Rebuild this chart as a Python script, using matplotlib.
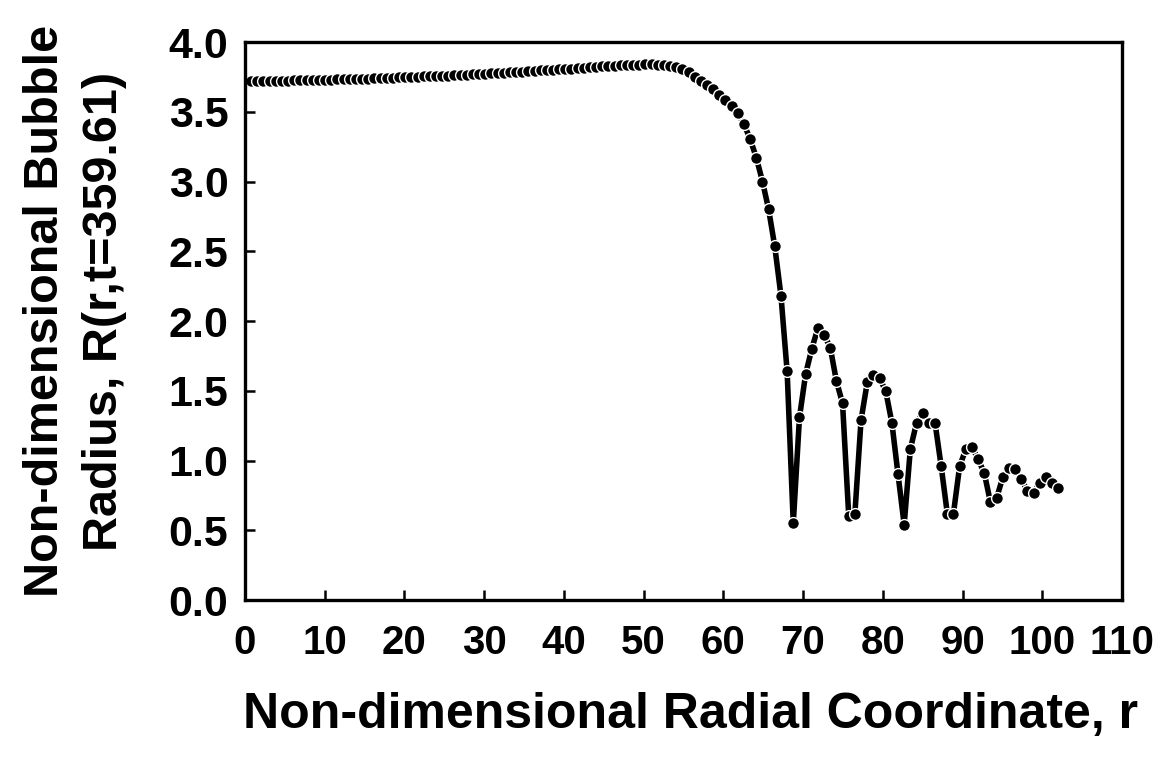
import matplotlib
matplotlib.use("Agg")
import matplotlib.pyplot as plt

# Radial coordinate of each computed point (uniform grid)
r_values = [
    0.00, 0.77, 1.55, 2.32, 3.09, 3.86, 4.64, 5.41, 6.18, 6.95,
    7.73, 8.50, 9.27, 10.05, 10.82, 11.59, 12.36, 13.14, 13.91, 14.68,
    15.45, 16.23, 17.00, 17.77, 18.55, 19.32, 20.09, 20.86, 21.64, 22.41,
    23.18, 23.95, 24.73, 25.50, 26.27, 27.05, 27.82, 28.59, 29.36, 30.14,
    30.91, 31.68, 32.45, 33.23, 34.00, 34.77, 35.55, 36.32, 37.09, 37.86,
    38.64, 39.41, 40.18, 40.95, 41.73, 42.50, 43.27, 44.05, 44.82, 45.59,
    46.36, 47.14, 47.91, 48.68, 49.45, 50.23, 51.00, 51.77, 52.55, 53.32,
    54.09, 54.86, 55.64, 56.41, 57.18, 57.95, 58.73, 59.50, 60.27, 61.05,
    61.82, 62.59, 63.36, 64.14, 64.91, 65.68, 66.45, 67.23, 68.00, 68.77,
    69.55, 70.32, 71.09, 71.86, 72.64, 73.41, 74.18, 74.95, 75.73, 76.50,
    77.27, 78.05, 78.82, 79.59, 80.36, 81.14, 81.91, 82.68, 83.45, 84.23,
    85.00, 85.77, 86.55, 87.32, 88.09, 88.86, 89.64, 90.41, 91.18, 91.95,
    92.73, 93.50, 94.27, 95.05, 95.82, 96.59, 97.36, 98.14, 98.91, 99.68,
    100.45, 101.23, 102.00,
]

# Non-dimensional bubble radius at each point
R_values = [
    3.720, 3.720, 3.720, 3.721, 3.722, 3.722, 3.723, 3.724, 3.725, 3.726,
    3.727, 3.728, 3.729, 3.730, 3.731, 3.732, 3.733, 3.734, 3.736, 3.737,
    3.738, 3.740, 3.741, 3.743, 3.744, 3.746, 3.747, 3.749, 3.751, 3.753,
    3.754, 3.756, 3.758, 3.760, 3.762, 3.764, 3.766, 3.768, 3.771, 3.773,
    3.775, 3.778, 3.780, 3.783, 3.785, 3.788, 3.790, 3.793, 3.796, 3.799,
    3.801, 3.804, 3.807, 3.810, 3.813, 3.816, 3.819, 3.822, 3.825, 3.828,
    3.831, 3.833, 3.835, 3.837, 3.838, 3.839, 3.839, 3.838, 3.835, 3.830,
    3.822, 3.805, 3.782, 3.752, 3.722, 3.692, 3.660, 3.622, 3.582, 3.545,
    3.490, 3.410, 3.305, 3.170, 3.000, 2.800, 2.535, 2.180, 1.640, 0.550,
    1.310, 1.620, 1.800, 1.950, 1.900, 1.810, 1.570, 1.410, 0.600, 0.620,
    1.290, 1.560, 1.610, 1.590, 1.500, 1.270, 0.900, 0.540, 1.080, 1.270,
    1.340, 1.270, 1.270, 0.960, 0.620, 0.620, 0.960, 1.080, 1.100, 1.010,
    0.910, 0.700, 0.730, 0.880, 0.950, 0.940, 0.870, 0.780, 0.770, 0.840,
    0.880, 0.840, 0.800,
]

x_ticks = [0, 10, 20, 30, 40, 50, 60, 70, 80, 90, 100, 110]
y_ticks = [0.0, 0.5, 1.0, 1.5, 2.0, 2.5, 3.0, 3.5, 4.0]

plt.rcParams['font.family'] = ['Liberation Sans', 'DejaVu Sans']
plt.rcParams['font.weight'] = 'bold'

fig = plt.figure(figsize=(11.61, 7.67), dpi=100)
ax = fig.add_axes([0.211, 0.2177, 0.7554, 0.7275])

ax.plot(r_values, R_values, color='black', linewidth=4.0,
        marker='o', markersize=8.5, markerfacecolor='black',
        markeredgecolor='white', markeredgewidth=1.0)

ax.set_xlim(0, 110)
ax.set_ylim(0, 4.0)
ax.set_xticks(x_ticks)
ax.set_yticks(y_ticks)
ax.set_xticklabels([str(v) for v in x_ticks])
ax.set_yticklabels([f"{v:.1f}" for v in y_ticks])

for s in ax.spines.values():
    s.set_linewidth(2.4)

ax.tick_params(axis='both', direction='in', width=1.8, length=7,
               labelsize=29)
ax.tick_params(axis='y', pad=12, labelsize=31)
ax.tick_params(axis='x', pad=17)
for lab in ax.get_xticklabels() + ax.get_yticklabels():
    lab.set_fontweight('bold')

ax.set_xlabel("Non-dimensional Radial Coordinate, r", fontsize=36,
              fontweight='bold')
ax.xaxis.set_label_coords(0.5086, -0.165)
ax.set_ylabel("Non-dimensional Bubble\nRadius, R(r,t=359.61)", fontsize=35,
              fontweight='bold', linespacing=1.4)
ax.yaxis.set_label_coords(-0.135, 0.518)

fig.savefig("out.png", dpi=100)
